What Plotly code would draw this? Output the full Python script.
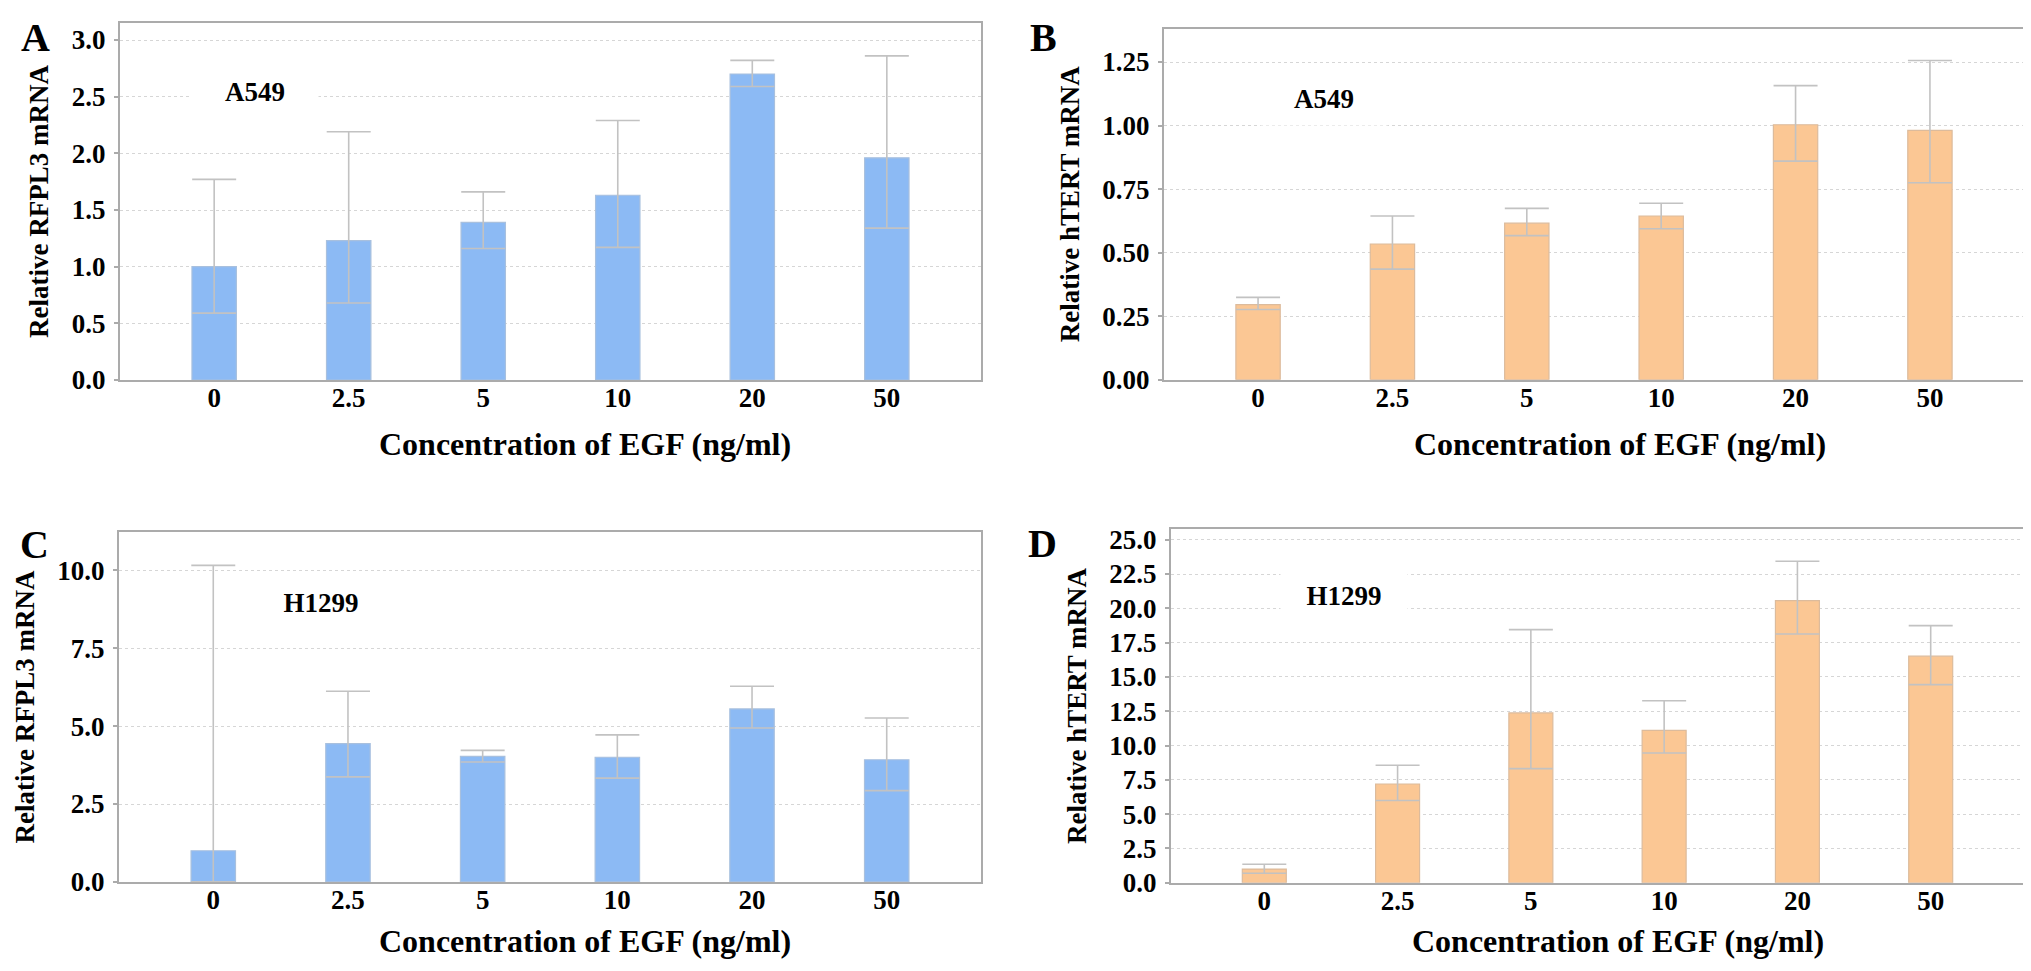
import plotly.graph_objects as go

# ---------------- data ----------------
concentrations = ["0", "2.5", "5", "10", "20", "50"]

# Panel A: RFPL3, A549
a_mean = [1.00, 1.23, 1.39, 1.63, 2.70, 1.96]
a_upper = [1.77, 2.19, 1.66, 2.29, 2.82, 2.86]
a_lower = [0.59, 0.68, 1.16, 1.17, 2.59, 1.34]

# Panel B: hTERT, A549
b_mean = [0.295, 0.534, 0.616, 0.644, 1.003, 0.981]
b_upper = [0.324, 0.644, 0.674, 0.694, 1.157, 1.256]
b_lower = [0.276, 0.435, 0.567, 0.594, 0.860, 0.775]

# Panel C: RFPL3, H1299
c_mean = [1.00, 4.44, 4.03, 4.00, 5.55, 3.92]
c_upper = [10.16, 6.12, 4.22, 4.72, 6.28, 5.26]
c_lower = [0.00, 3.37, 3.85, 3.33, 4.94, 2.93]

# Panel D: hTERT, H1299
d_mean = [1.00, 7.20, 12.38, 11.11, 20.56, 16.51]
d_upper = [1.35, 8.56, 18.45, 13.27, 23.43, 18.74]
d_lower = [0.70, 6.00, 8.32, 9.46, 18.13, 14.44]

a_ticks = [0.0, 0.5, 1.0, 1.5, 2.0, 2.5, 3.0]
b_ticks = [0.00, 0.25, 0.50, 0.75, 1.00, 1.25]
c_ticks = [0.0, 2.5, 5.0, 7.5, 10.0]
d_ticks = [0.0, 2.5, 5.0, 7.5, 10.0, 12.5, 15.0, 17.5, 20.0, 22.5, 25.0]

x_title = "Concentration of EGF (ng/ml)"
rfpl3_title = "Relative RFPL3 mRNA"
htert_title = "Relative hTERT mRNA"
cell_a549 = "A549"
cell_h1299 = "H1299"
panel_letters = ["A", "B", "C", "D"]

# ---------------- style ----------------
W, H = 2031, 971
FONT = "Liberation Serif"
BLUE = "#8cbaf4"
BLUE_LINE = "#a8c0de"
ORANGE = "#fbc794"
ORANGE_LINE = "#dcbb9c"
ERR = "#c2c2c2"
AXIS = "#ababab"
GRID = "#d6d6d6"


def px_x(p):
    return p / W


def px_y(p):
    return 1 - p / H


panels = [
    dict(mean=a_mean, up=a_upper, lo=a_lower, ticks=a_ticks, fmt="%.1f", rng=[0, 3.15],
         color=BLUE, line=BLUE_LINE, ytitle=rfpl3_title, cell=cell_a549,
         box=(112, 973, 15, 372), cellpos=(0.157, 0.807), letter=(27.5, 29),
         xtitle_pos=(577, 436)),
    dict(mean=b_mean, up=b_upper, lo=b_lower, ticks=b_ticks, fmt="%.2f", rng=[0, 1.381],
         color=ORANGE, line=ORANGE_LINE, ytitle=htert_title, cell=cell_a549,
         box=(1156, 2016, 20.7, 371.7), cellpos=(0.186, 0.801), letter=(1035.5, 29),
         xtitle_pos=(1612, 436)),
    dict(mean=c_mean, up=c_upper, lo=c_lower, ticks=c_ticks, fmt="%.1f", rng=[0, 11.22],
         color=BLUE, line=BLUE_LINE, ytitle=rfpl3_title, cell=cell_h1299,
         box=(111, 973, 524.3, 873.9), cellpos=(0.234, 0.799), letter=(26.5, 536),
         xtitle_pos=(577, 933)),
    dict(mean=d_mean, up=d_upper, lo=d_lower, ticks=d_ticks, fmt="%.1f", rng=[0, 25.78],
         color=ORANGE, line=ORANGE_LINE, ytitle=htert_title, cell=cell_h1299,
         box=(1163, 2016, 521, 874.8), cellpos=(0.203, 0.812), letter=(1034.5, 535),
         xtitle_pos=(1610, 933)),
]

fig = go.Figure()
annotations = []
layout = {}

for i, p in enumerate(panels):
    n = i + 1
    xa = "x" if n == 1 else f"x{n}"
    ya = "y" if n == 1 else f"y{n}"
    xkey = "xaxis" if n == 1 else f"xaxis{n}"
    ykey = "yaxis" if n == 1 else f"yaxis{n}"
    plus = [u - m for u, m in zip(p["up"], p["mean"])]
    minus = [m - l for m, l in zip(p["mean"], p["lo"])]
    fig.add_trace(go.Bar(
        x=concentrations, y=p["mean"], xaxis=xa, yaxis=ya, width=0.33,
        marker=dict(color=p["color"], line=dict(color=p["line"], width=1.2)),
        error_y=dict(type="data", symmetric=False, array=plus, arrayminus=minus,
                     color=ERR, thickness=1.6, width=22),
        showlegend=False,
    ))
    x0, x1, y0, y1 = p["box"]
    layout[xkey] = dict(
        domain=[px_x(x0), px_x(x1)], anchor=ya, type="category", range=[-0.7, 5.7],
        showline=True, mirror=True, linecolor=AXIS, linewidth=2,
        showgrid=False, ticks="", zeroline=False, ticklabelstandoff=-7,
        tickfont=dict(family=FONT, size=27, color="black", weight="bold"),
        automargin=False,
    )
    layout[ykey] = dict(
        domain=[px_y(y1), px_y(y0)], anchor=xa, range=p["rng"],
        tickmode="array", tickvals=p["ticks"], ticktext=[p["fmt"] % t for t in p["ticks"]],
        showline=True, mirror=True, linecolor=AXIS, linewidth=2,
        ticks="outside", ticklen=4, tickcolor=AXIS, tickwidth=1.5, ticklabelstandoff=3,
        showgrid=True, gridcolor=GRID, griddash="dot", gridwidth=1.3, zeroline=False,
        tickfont=dict(family=FONT, size=27, color="black", weight="bold"),
        title=dict(text=p["ytitle"], standoff=15,
                   font=dict(family=FONT, size=27, color="black", weight="bold")),
        automargin=False,
    )
    tx, ty = p["xtitle_pos"]
    annotations.append(dict(
        text=x_title, xref="paper", yref="paper", x=px_x(tx), y=px_y(ty),
        xanchor="center", yanchor="middle", showarrow=False,
        font=dict(family=FONT, size=32, color="black", weight="bold"),
    ))
    cx, cy = p["cellpos"]
    annotations.append(dict(
        text=p["cell"], xref=f"{xa} domain", yref=f"{ya} domain", x=cx, y=cy,
        xanchor="center", yanchor="middle", showarrow=False,
        bgcolor="white", width=124, height=50,
        font=dict(family=FONT, size=27, color="black", weight="bold"),
    ))
    lx, ly = p["letter"]
    annotations.append(dict(
        text=panel_letters[i], xref="paper", yref="paper", x=px_x(lx), y=px_y(ly),
        xanchor="center", yanchor="middle", showarrow=False,
        font=dict(family=FONT, size=40, color="black", weight="bold"),
    ))

fig.update_layout(
    width=W, height=H, margin=dict(l=0, r=0, t=0, b=0),
    paper_bgcolor="white", plot_bgcolor="white",
    annotations=annotations, bargap=0.5, **layout,
)

fig.write_html("out.html")
